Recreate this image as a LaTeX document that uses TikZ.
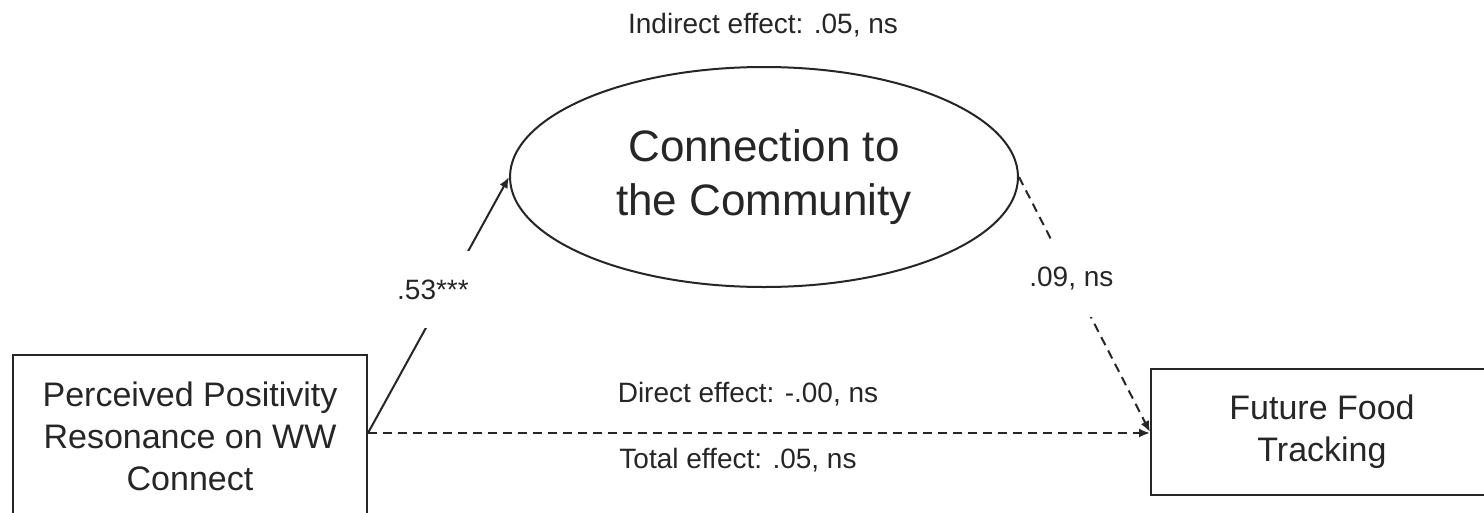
\documentclass[tikz,border=0pt]{standalone}
\usepackage{fontspec}
\setmainfont{Liberation Sans}
\usetikzlibrary{arrows.meta,shapes.geometric}
\definecolor{ink}{HTML}{262626}
\begin{document}
\begin{tikzpicture}[x=1pt,y=-1pt,
  every node/.style={text=ink},
  boxnode/.style={draw=ink, line width=2pt, align=center,
    font=\fontsize{34}{42}\selectfont, inner sep=0pt},
  lbl/.style={font=\fontsize{28}{34}\selectfont},
  gaplbl/.style={lbl, fill=white, inner sep=0pt},
  conn/.style={draw=ink, line width=2pt, -{Latex[length=11pt,width=9pt]}},
  dashedline/.style={dash pattern=on 9pt off 6pt}
]
\useasboundingbox (0,0) rectangle (1484,512);
\fill[white] (0,0) rectangle (1484,512);

% variables
\node[boxnode, minimum width=354pt, minimum height=162pt] (pred) at (190,436)
  {Perceived Positivity\\Resonance on WW\\Connect};
\node[boxnode, minimum width=342pt, minimum height=126pt] (out) at (1322,432)
  {Future Food\\Tracking};
\node[ellipse, draw=ink, line width=2pt, minimum width=508pt, minimum height=220pt,
  inner sep=0pt, align=center, font=\fontsize{44}{54}\selectfont] (med) at (764,177)
  {Connection to\\the Community};

% paths
\coordinate (pe) at ([yshift=3pt]pred.east);
\draw[conn] (pe) -- (med.west)
  node[gaplbl, pos=0.56, xshift=-14pt, minimum width=90pt, minimum height=77pt] (a) {.53***};
\draw[conn, dashedline] (med.east) -- (out.west)
  node[gaplbl, pos=0.40, minimum width=95pt, minimum height=75pt] (b) {.09, ns};
\draw[conn, dashedline] (pe) -- (pe -| out.west);

% effect labels
\node[lbl, anchor=base] (ind) at (763,33) {Indirect effect: .05, ns};
\node[lbl, anchor=base] (dir) at (748,402) {Direct effect: -.00, ns};
\node[lbl, anchor=base] (tot) at (738,468) {Total effect: .05, ns};
\end{tikzpicture}
\end{document}
